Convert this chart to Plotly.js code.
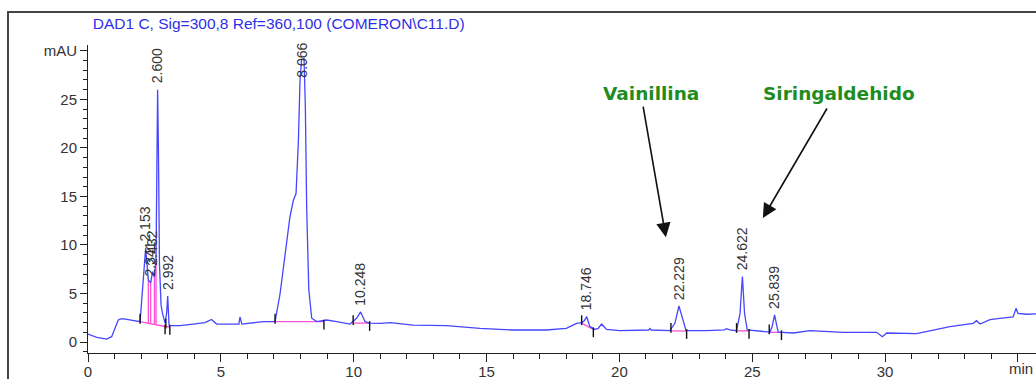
<!DOCTYPE html>
<html>
<head>
<meta charset="utf-8">
<script src="https://cdn.plot.ly/plotly-3.0.1.min.js"></script>
<style>html,body{margin:0;padding:0;background:#fff;}#chart{width:1036px;height:379px;}</style>
</head>
<body>
<div id="chart"></div>
<script>
// Chromatogram signal (min, mAU)
const time = [0, 0.33, 0.7, 0.89, 1.14, 1.27, 1.46, 1.96, 2.08, 2.17, 2.27, 2.36, 2.43, 2.50, 2.56, 2.60, 2.62, 2.65, 2.69, 2.75, 2.80, 2.90, 2.96, 3.00, 3.05, 3.15, 3.46, 3.96, 4.4, 4.65, 4.84, 5.47, 5.68, 5.72, 5.79, 6.6, 7.04, 7.23, 7.41, 7.60, 7.73, 7.83, 7.92, 7.98, 8.04, 8.13, 8.18, 8.23, 8.31, 8.42, 8.61, 8.98, 9.36, 9.86, 10.11, 10.26, 10.43, 10.6, 10.99, 11.37, 12.24, 13.5, 14.75, 16.0, 17.26, 18.0, 18.39, 18.58, 18.68, 18.77, 18.89, 19.08, 19.2, 19.33, 19.45, 19.52, 20.02, 21.1, 21.15, 21.2, 21.9, 22.09, 22.24, 22.38, 22.51, 23.28, 23.95, 24.04, 24.15, 24.41, 24.54, 24.63, 24.71, 24.81, 25.67, 25.75, 25.84, 25.93, 25.98, 26.55, 27.17, 28.43, 29.68, 29.9, 30.06, 31.19, 31.81, 32.44, 33.32, 33.44, 33.57, 33.95, 34.32, 34.82, 34.93, 35.0, 35.33, 35.68];
const signal = [0.82, 0.48, 0.3, 0.55, 2.27, 2.4, 2.33, 2.1, 6.4, 9.7, 6.4, 6.1, 7.25, 6.7, 8.45, 20, 26.0, 20, 8, 3.8, 3.0, 1.95, 3.0, 4.74, 1.75, 1.7, 1.68, 1.85, 2.0, 2.33, 1.85, 1.85, 1.85, 2.6, 1.85, 2.1, 2.1, 5.0, 8.8, 12.9, 14.6, 15.3, 20.8, 27.0, 29.1, 29.2, 24.3, 13.9, 5.4, 2.45, 2.1, 2.27, 2.1, 1.85, 2.45, 3.1, 2.1, 1.95, 1.92, 2.0, 1.75, 1.68, 1.41, 1.24, 1.24, 1.41, 1.93, 2.0, 2.2, 2.61, 1.58, 1.3, 1.4, 1.86, 1.5, 1.3, 1.17, 1.24, 1.4, 1.24, 1.17, 1.93, 3.71, 2.3, 1.17, 1.17, 1.25, 1.38, 1.25, 1.17, 2.96, 6.74, 2.96, 1.24, 1.03, 1.6, 2.8, 1.6, 1.03, 0.93, 1.17, 1.0, 1.0, 0.55, 0.93, 0.86, 1.2, 1.58, 1.93, 2.2, 1.86, 2.3, 2.44, 2.6, 3.47, 2.96, 2.86, 2.9];

// Peak labels (retention times) and apex heights
const peakLabels = ['2.153', '2.341', '2.432', '2.600', '2.992', '8.066', '10.248', '18.746', '22.229', '24.622', '25.839'];
const peakHeights = [9.7, 6.1, 7.25, 26.0, 4.74, 29.2, 3.1, 2.61, 3.71, 6.74, 2.8];

// Integration baselines
const baseStartT = [1.96, 2.93, 7.04, 9.98, 18.58, 21.94, 24.41, 25.64];
const baseStartV = [2.1, 1.6, 2.1, 1.95, 1.95, 1.15, 1.15, 1.0];
const baseEndT = [2.90, 3.08, 8.88, 10.60, 19.02, 22.53, 24.88, 26.10];
const baseEndV = [1.6, 1.55, 2.1, 1.95, 1.3, 1.13, 1.15, 1.0];
// Drop lines between unresolved peaks
const dropTimes = [2.27, 2.36, 2.50, 2.56];

// Axis tick labels
const xTickVals = [0, 5, 10, 15, 20, 25, 30, 35];
const xTickText = ['0', '5', '10', '15', '20', '25', '30', ''];
const yTickVals = [0, 5, 10, 15, 20, 25, 30];
const yTickText = ['0', '5', '10', '15', '20', '25', 'mAU'];

const titleText = 'DAD1 C, Sig=300,8 Ref=360,100 (COMERON\\C11.D)';
const compounds = ['Vainillina', 'Siringaldehido'];

// ---- build traces ----
const baseX = [], baseY = [];
for (let i = 0; i < baseStartT.length; i++) {
  baseX.push(baseStartT[i], baseEndT[i], null);
  baseY.push(baseStartV[i], baseEndV[i], null);
}
// drop lines from the cluster baseline up to the signal
const c0t = baseStartT[0], c0v = baseStartV[0], c1t = baseEndT[0], c1v = baseEndV[0];
dropTimes.forEach(t => {
  const idx = time.indexOf(t);
  const b = c0v + (c1v - c0v) * (t - c0t) / (c1t - c0t);
  baseX.push(t, t, null);
  baseY.push(b, signal[idx], null);
});

const tickX = [], tickY = [];
for (let i = 0; i < baseStartT.length; i++) {
  tickX.push(baseStartT[i]); tickY.push(baseStartV[i] + 0.3);
  tickX.push(baseEndT[i]); tickY.push(baseEndV[i] - 0.3);
}

const traces = [
  {x: baseX, y: baseY, mode: 'lines', line: {color: '#ff50d8', width: 1.3}, hoverinfo: 'skip'},
  {x: time, y: signal, mode: 'lines', line: {color: '#4646ff', width: 1.3}, hoverinfo: 'skip'},
  {x: tickX, y: tickY, mode: 'markers', marker: {symbol: 'line-ns', size: 7, line: {color: '#111', width: 1.4}}, hoverinfo: 'skip'}
];

const annotations = [];
peakLabels.forEach((lab, i) => {
  annotations.push({
    x: parseFloat(lab), y: Math.min(peakHeights[i], 26.6), xref: 'x', yref: 'y',
    text: lab, showarrow: false, textangle: -90, xanchor: 'center', yanchor: 'bottom', yshift: 4,
    font: {family: 'Liberation Sans, Arial, sans-serif', size: 14, color: '#333'}
  });
});
annotations.push({
  x: 0.998, y: -0.05, xref: 'paper', yref: 'paper', text: 'min', showarrow: false,
  xanchor: 'right', yanchor: 'middle', borderpad: 0,
  font: {family: 'Liberation Sans, Arial, sans-serif', size: 15, color: '#333'}
});
// compound names and arrows
const greenFont = {family: 'DejaVu Sans, sans-serif', size: 18.5, color: '#1f8c1f'};
annotations.push({x: 21.2, y: 25.6, xref: 'x', yref: 'y', text: '<b>' + compounds[0] + '</b>', showarrow: false, font: greenFont, xanchor: 'center', yanchor: 'middle'});
annotations.push({x: 28.27, y: 25.6, xref: 'x', yref: 'y', text: '<b>' + compounds[1] + '</b>', showarrow: false, font: greenFont, xanchor: 'center', yanchor: 'middle'});
annotations.push({x: 21.75, y: 10.8, xref: 'x', yref: 'y', text: '', showarrow: true, ax: -23, ay: -132,
  arrowhead: 2, arrowsize: 1.8, arrowwidth: 1.6, arrowcolor: '#111', standoff: 0});
annotations.push({x: 25.40, y: 12.78, xref: 'x', yref: 'y', text: '', showarrow: true, ax: 65, ay: -111,
  arrowhead: 2, arrowsize: 1.8, arrowwidth: 1.6, arrowcolor: '#111', standoff: 0});

const tickFont = {family: 'Liberation Sans, Arial, sans-serif', size: 15, color: '#333'};
const layout = {
  width: 1036, height: 379,
  margin: {l: 88, r: 0, t: 45, b: 26, pad: 0},
  paper_bgcolor: '#fff', plot_bgcolor: '#fff',
  showlegend: false,
  title: {text: titleText, x: 0.005, xref: 'paper', xanchor: 'left', y: 0.939, yref: 'container', yanchor: 'middle',
    font: {family: 'Liberation Sans, Arial, sans-serif', size: 15.5, color: '#2f2fe6'}},
  xaxis: {
    range: [0, 35.68], showgrid: false, zeroline: false, showline: true, linecolor: '#222', linewidth: 1,
    tickmode: 'array', tickvals: xTickVals, ticktext: xTickText, ticks: 'outside', ticklen: 8, tickwidth: 1, tickcolor: '#222',
    tickfont: tickFont, ticklabelstandoff: -3,
    minor: {tickmode: 'linear', tick0: 0, dtick: 1, ticks: 'outside', ticklen: 5, tickwidth: 1, tickcolor: '#222', showgrid: false}
  },
  yaxis: {
    range: [-1.13, 30.6], showgrid: false, zeroline: false, showline: true, linecolor: '#222', linewidth: 1,
    tickmode: 'array', tickvals: yTickVals, ticktext: yTickText, ticks: 'outside', ticklen: 7, tickwidth: 1, tickcolor: '#222',
    tickfont: tickFont,
    minor: {tickmode: 'linear', tick0: 0, dtick: 1, ticks: 'outside', ticklen: 4, tickwidth: 1, tickcolor: '#222', showgrid: false}
  },
  shapes: [{type: 'rect', xref: 'paper', yref: 'paper', x0: -0.0844, x1: 1.2, y0: -0.3, y1: 1.107,
    line: {color: '#444', width: 2}, fillcolor: 'rgba(0,0,0,0)'}],
  annotations: annotations
};

Plotly.newPlot('chart', traces, layout, {staticPlot: true, displayModeBar: false});
</script>
</body>
</html>
